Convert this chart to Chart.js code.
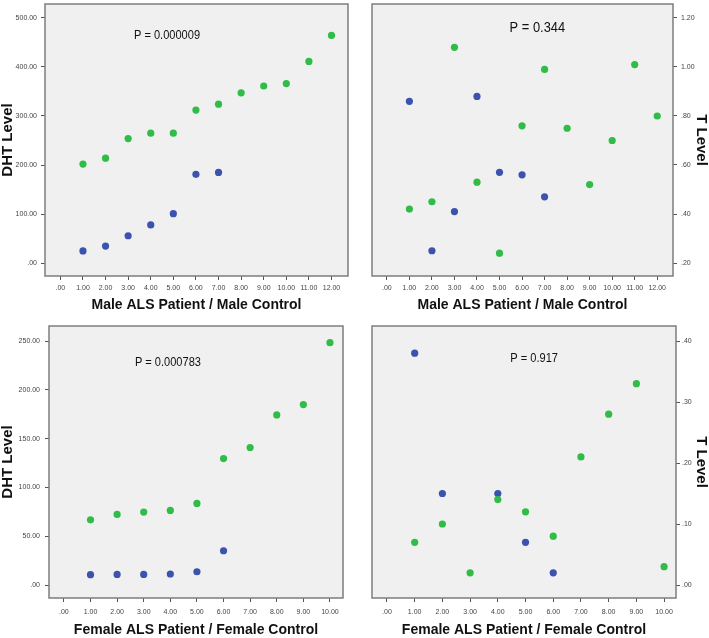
<!DOCTYPE html>
<html><head><meta charset="utf-8">
<script src="https://cdn.jsdelivr.net/npm/chart.js@4/dist/chart.umd.min.js"></script>
<style>
html,body{margin:0;padding:0;background:#fff;}
#wrap{position:relative;width:709px;height:638px;overflow:hidden;}
canvas{position:absolute;}
</style></head><body>
<div id="wrap">
<canvas id="c1" width="355" height="318" style="left:0;top:0"></canvas>
<canvas id="c2" width="354" height="318" style="left:355px;top:0"></canvas>
<canvas id="c3" width="355" height="320" style="left:0;top:318px"></canvas>
<canvas id="c4" width="354" height="320" style="left:355px;top:318px"></canvas>
</div>
<script>
// ---- Data ----
const maleGreenIdx = [1,2,3,4,5,6,7,8,9,10,11,12];
const maleBlueIdx  = [1,2,3,4,5,6,7];
const maleDhtGreen = [202,214,254,265,265,312,324,347,361,366,411,464];
const maleDhtBlue  = [25,35,56,78,101,181,185];
const maleTGreen   = [0.42,0.45,1.08,0.53,0.24,0.76,0.99,0.75,0.52,0.70,1.01,0.80];
const maleTBlue    = [0.86,0.25,0.41,0.88,0.57,0.56,0.47];

const femaleGreenIdx  = [1,2,3,4,5,6,7,8,9,10];
const femaleBlueIdx   = [1,2,3,4,5,6];
const femaleDhtGreen  = [66.8,72.3,74.7,76.4,83.6,129.6,140.9,174.3,184.9,248.3];
const femaleDhtBlue   = [10.6,10.9,10.9,11.3,13.6,35.1];
const femaleTGreen    = [0.07,0.10,0.02,0.14,0.12,0.08,0.21,0.28,0.33,0.03];
const femaleTBlueIdx  = [1,2,4,5,6];
const femaleTBlue     = [0.38,0.15,0.15,0.07,0.02];

const maleXTicks   = [0,1,2,3,4,5,6,7,8,9,10,11,12];
const femaleXTicks = [0,1,2,3,4,5,6,7,8,9,10];
const maleDhtTicks   = [0,100,200,300,400,500];
const maleTTicks     = [0.2,0.4,0.6,0.8,1.0,1.2];
const femaleDhtTicks = [0,50,100,150,200,250];
const femaleTTicks   = [0,0.1,0.2,0.3,0.4];

const pValues = ['P = 0.000009','P = 0.344','P = 0.000783','P = 0.917'];
const xTitles = ['Male ALS Patient / Male Control','Female ALS Patient / Female Control'];
const yTitles = ['DHT Level','T Level'];

// ---- Helpers ----
const GREEN = '#2fbd47', BLUE = '#3b53ae';
const fmt = v => { let s = Number(v).toFixed(2); return s.replace(/^0\./,'.'); };
const pts = (xs, ys) => xs.map((x,i)=>({x:x, y:ys[i]}));

const framePlugin = {
  id:'frame',
  beforeDraw(chart){
    const {ctx, chartArea:a} = chart;
    ctx.save(); ctx.fillStyle='#f0f0f0';
    ctx.fillRect(a.left,a.top,a.right-a.left,a.bottom-a.top); ctx.restore();
  },
  afterDraw(chart, args, o){
    const {ctx, chartArea:a} = chart;
    ctx.save();
    ctx.strokeStyle='#7d7d7d'; ctx.lineWidth=1.5;
    ctx.strokeRect(a.left,a.top,a.right-a.left,a.bottom-a.top);
    const px = chart.scales.x.getPixelForValue(o.x);
    const py = chart.scales.y.getPixelForValue(o.y);
    ctx.translate(px,py); ctx.scale(o.sx,1);
    ctx.fillStyle='#111'; ctx.font = o.size+'px "Liberation Sans", Arial, sans-serif';
    ctx.textAlign='center'; ctx.textBaseline='middle';
    ctx.fillText(o.text,0,0);
    ctx.restore();
  }
};

function makeChart(id, cfg){
  const tickFont = {family:'Liberation Sans', size:7};
  return new Chart(document.getElementById(id), {
    type:'scatter',
    data:{datasets:[
      {data:cfg.green, backgroundColor:GREEN, borderWidth:0, pointRadius:3.6},
      {data:cfg.blue, backgroundColor:BLUE, borderWidth:0, pointRadius:3.6}
    ]},
    options:{
      responsive:false, animation:false, devicePixelRatio:1,
      layout:{padding:cfg.pad},
      plugins:{legend:{display:false}, tooltip:{enabled:false},
        frame:{text:cfg.p, x:cfg.px, y:cfg.py, size:cfg.psize, sx:cfg.psx}},
      scales:{
        x:{type:'linear', position:'bottom', min:cfg.xmin, max:cfg.xmax,
          afterBuildTicks(s){ s.ticks = cfg.xticks.map(v=>({value:v})); },
          afterFit(s){ s.height = cfg.xh; s.paddingLeft=0; s.paddingRight=0; },
          grid:{drawOnChartArea:false, drawTicks:true, tickLength:4, color:'#555', lineWidth:1},
          border:{display:false},
          ticks:{font:tickFont, color:'#444', padding:cfg.xtp, maxRotation:0, autoSkip:false, callback:v=>fmt(v)},
          title:{display:true, text:cfg.xt, color:'#111',
            font:{family:'Liberation Sans', size:14, weight:'bold', lineHeight:1},
            padding:{top:0, bottom:cfg.xtb}}
        },
        y:{type:'linear', position:cfg.ypos, min:cfg.ymin, max:cfg.ymax,
          afterBuildTicks(s){ s.ticks = cfg.yticks.map(v=>({value:v})); },
          afterFit(s){ s.width = cfg.yw; s.paddingTop=0; s.paddingBottom=0; },
          grid:{drawOnChartArea:false, drawTicks:true, tickLength:4, color:'#555', lineWidth:1},
          border:{display:false},
          ticks:{font:tickFont, color:'#444', padding:cfg.ytp, autoSkip:false, callback:v=>fmt(v)},
          title:{display:true, text:cfg.yt, color:'#111',
            font:{family:'Liberation Sans', size:15, weight:'bold', lineHeight:1},
            padding:{top:0, bottom:0}}
        }
      }
    },
    plugins:[framePlugin]
  });
}

makeChart('c1', {
  green:pts(maleGreenIdx, maleDhtGreen), blue:pts(maleBlueIdx, maleDhtBlue),
  pad:{top:3,right:7,left:0,bottom:0},
  xmin:-0.68, xmax:12.73, xticks:maleXTicks, xh:42, xtp:4, xt:xTitles[0], xtb:6,
  ymin:-26, ymax:528, yticks:maleDhtTicks, yw:45, ytp:4, yt:yTitles[0], ypos:'left',
  p:pValues[0], px:4.72, py:465, psize:13, psx:0.85
});
makeChart('c2', {
  green:pts(maleGreenIdx, maleTGreen), blue:pts(maleBlueIdx, maleTBlue),
  pad:{top:3,right:0,left:17,bottom:0},
  xmin:-0.66, xmax:12.7, xticks:maleXTicks, xh:42, xtp:4, xt:xTitles[0], xtb:6,
  ymin:0.147, ymax:1.257, yticks:maleTTicks, yw:36, ytp:4, yt:yTitles[1], ypos:'right',
  p:pValues[1], px:6.68, py:1.159, psize:14, psx:0.92
});
makeChart('c3', {
  green:pts(femaleGreenIdx, femaleDhtGreen), blue:pts(femaleBlueIdx, femaleDhtBlue),
  pad:{top:8,right:12,left:0,bottom:0},
  xmin:-0.56, xmax:10.49, xticks:femaleXTicks, xh:40, xtp:6, xt:xTitles[1], xtb:1,
  ymin:-13.3, ymax:265.4, yticks:femaleDhtTicks, yw:49, ytp:5, yt:yTitles[0], ypos:'left',
  p:pValues[2], px:3.91, py:228.5, psize:13, psx:0.85
});
makeChart('c4', {
  green:pts(femaleGreenIdx, femaleTGreen), blue:pts(femaleTBlueIdx, femaleTBlue),
  pad:{top:8,right:0,left:17,bottom:0},
  xmin:-0.54, xmax:10.43, xticks:femaleXTicks, xh:40, xtp:6, xt:xTitles[1], xtb:1,
  ymin:-0.0213, ymax:0.4246, yticks:femaleTTicks, yw:33, ytp:2, yt:yTitles[1], ypos:'right',
  p:pValues[3], px:5.31, py:0.372, psize:13, psx:0.85
});
</script>
</body></html>
